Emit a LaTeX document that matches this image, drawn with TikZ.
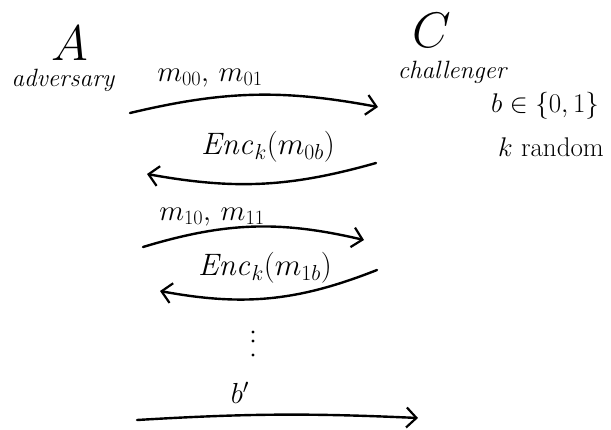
\RequirePackage{fix-cm}
\documentclass[tikz,border=0pt]{standalone}
\usetikzlibrary{arrows.meta}
\begin{document}
\begin{tikzpicture}[x=1pt,y=1pt,
  msg/.style={line width=2.4pt, line cap=round, -{Straight Barb[length=10pt,width=20pt,line width=2.2pt]}},
  party/.style={font=\fontsize{50}{50}\selectfont},
  role/.style={font=\fontsize{25}{27}\selectfont\itshape},
  lbl/.style={font=\fontsize{29}{31}\selectfont},
  enc/.style={font=\fontsize{31}{33}\selectfont},
  note/.style={font=\fontsize{27}{29}\selectfont}]
\useasboundingbox (0,0) rectangle (611,-429);
% parties
\node[party] (A) at (70,-43) {$A$};
\node[role] (adv) at (63,-80) {adversary};
\node[party] (C) at (432,-30) {$C$};
\node[role] (chal) at (452,-72) {challenger};
\node[note] (bsel) at (545,-106) {$b\in\{0,1\}$};
\node[note] (krand) at (551,-147) {$k$ random};
% messages
\node[lbl] (l1) at (210,-78) {$m_{00},\,m_{01}$};
\coordinate (s1) at (130,-113);
\coordinate (e1) at (378,-107);
\draw[msg] (s1) to[bend left=12] (e1);
\node[enc] (l2) at (268,-147) {$\mathit{Enc}_k(m_{0b})$};
\coordinate (s2) at (376,-163);
\coordinate (e2) at (147,-174);
\draw[msg] (s2) to[bend left=13] (e2);
\node[lbl] (l3) at (212,-217) {$m_{10},\,m_{11}$};
\coordinate (s3) at (143,-247);
\coordinate (e3) at (364,-240);
\draw[msg] (s3) to[bend left=15] (e3);
\node[enc] (l4) at (265,-268) {$\mathit{Enc}_k(m_{1b})$};
\coordinate (s4) at (377,-270);
\coordinate (e4) at (160,-291);
\draw[msg] (s4) to[bend left=16] (e4);
\foreach \y in {332,341,355} \fill (253,-\y) circle (1.6pt);
\node[lbl] (l5) at (240,-393) {$b'$};
\coordinate (s5) at (137,-420);
\coordinate (e5) at (418,-418);
\draw[msg] (s5) to[bend left=3] (e5);
\end{tikzpicture}
\end{document}
